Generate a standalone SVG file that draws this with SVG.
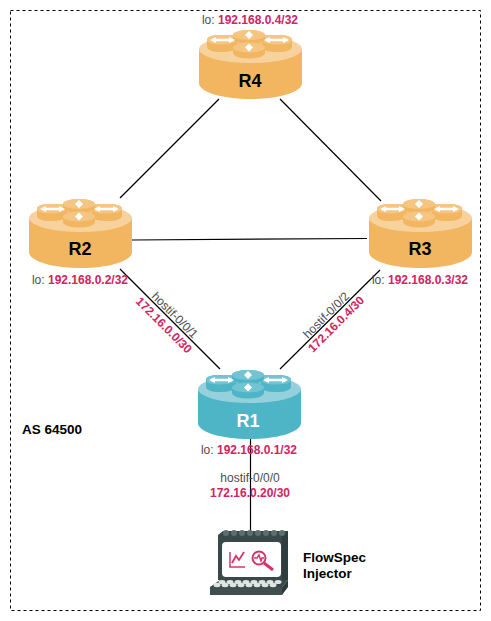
<svg xmlns="http://www.w3.org/2000/svg" width="491" height="621" viewBox="0 0 491 621">
<style>
text{font-family:"Liberation Sans",Arial,sans-serif}
.lb{font-size:12px;fill:#4d4d4d}
.ip{font-weight:bold;fill:#d0245f}
.nm{font-size:18px;font-weight:bold;text-anchor:middle;fill:#000}
.c{stroke:#000;stroke-width:1.200;fill:none}
.a{stroke:#fff;stroke-width:2.500;fill:none}
.mid{text-anchor:middle}
.t{font-size:13.500px;font-weight:bold;fill:#000}
</style>
<defs>
<g id="disks">
<path d="M8 11Q8 6 22 6H38V18Q36 23 22 23Q8 23 8 17Z" fill="var(--b)"/>
<path d="M8 11Q8 6 22 6H38Q41 11 36 13Q28 16 20 15.500Q8 15 8 11Z" fill="var(--m)"/>
<path d="M64 6H78Q93 6 93 11V17Q93 23 78 23Q64 23 62 18Z" fill="var(--b)"/>
<path d="M64 6H78Q93 6 93 11Q93 15 80 15.500Q70 16 64 13Q60 11 64 6Z" fill="var(--m)"/>
<path d="M34 6A16 5 0 0 1 66 6V10A16 5 0 0 1 34 10Z" fill="var(--b)"/>
<ellipse cx="50" cy="6" rx="16" ry="5" fill="var(--m)"/>
<path d="M34 18.500A16 5.500 0 0 1 66 18.500V24A16 5.500 0 0 1 34 24Z" fill="var(--b)"/>
<ellipse cx="50" cy="18.500" rx="16" ry="5" fill="var(--m)"/>
<path class="a" d="M13 11H34M88 11H67"/>
<path d="M11 11L17 8V14ZM36 11L30 8V14ZM65 11L71 8V14ZM90 11L84 8V14ZM50 2L54 6H46ZM50 10L46 6H54ZM50 14.500L54 18.500H46ZM50 22.500L46 18.500H54Z" fill="#fff"/>
</g>
<g id="router">
<path d="M0 20V54C0 63 23 70 51.500 70S103 63 103 54V20Z" fill="var(--b)"/>
<ellipse cx="51.500" cy="20" rx="51.500" ry="14" fill="var(--l)"/>
<use href="#disks"/>
</g>
<g id="term">
<path d="M13 10L18 6H83V50L77 55H13Z" fill="#39494a"/>
<path d="M77 11L83 6V55L77 55Z" fill="#2f3d3e"/>
<path d="M5 62L15 55H83L77 62Z" fill="#39494a"/>
<path d="M5 62H77V70H5Z" fill="#3f4f50"/>
<path d="M77 62L83 55V62L77 70Z" fill="#2c3a3b"/>
<rect x="17" y="17" width="59" height="35" rx="4" fill="#fff"/>
<g fill="#5f6e6e"><circle cx="21" cy="8" r="3"/><circle cx="29" cy="8" r="3"/><circle cx="37" cy="8" r="3"/><circle cx="45" cy="8" r="3"/><circle cx="53" cy="8" r="3"/><circle cx="61" cy="8" r="3"/><circle cx="69" cy="8" r="3"/><circle cx="77" cy="8" r="3"/></g>
<g fill="#dfe5e3"><ellipse cx="12" cy="60" rx="3.500" ry="2.200"/><ellipse cx="20" cy="60" rx="3.500" ry="2.200"/><ellipse cx="28" cy="60" rx="3.500" ry="2.200"/><ellipse cx="36" cy="60" rx="3.500" ry="2.200"/><ellipse cx="44" cy="60" rx="3.500" ry="2.200"/><ellipse cx="52" cy="60" rx="3.500" ry="2.200"/><ellipse cx="60" cy="60" rx="3.500" ry="2.200"/><ellipse cx="68" cy="60" rx="3.500" ry="2.200"/><ellipse cx="17" cy="57" rx="3.500" ry="2"/><ellipse cx="25" cy="57" rx="3.500" ry="2"/><ellipse cx="33" cy="57" rx="3.500" ry="2"/><ellipse cx="41" cy="57" rx="3.500" ry="2"/><ellipse cx="49" cy="57" rx="3.500" ry="2"/><ellipse cx="57" cy="57" rx="3.500" ry="2"/><ellipse cx="65" cy="57" rx="3.500" ry="2"/><ellipse cx="73" cy="57" rx="3.500" ry="2"/></g>
<g fill="none" stroke="#d6336c" stroke-width="1.500"><path d="M25 27V42H40"/><path d="M27 38L31 31L34 35L39 27" stroke-width="1.800"/><circle cx="54" cy="33" r="6.500" stroke-width="2"/><path d="M49 33H52L54 30L56 36L57 33H59"/><path d="M59 38L68 45" stroke-width="3"/></g>
</g>
</defs>
<rect x="10.500" y="10.500" width="470" height="600" fill="none" stroke="#000" stroke-dasharray="3 3"/>
<g id="connectors">
<path class="c" d="M219 99L120 198"/>
<path class="c" d="M280 99L381 201"/>
<path class="c" d="M132 240L367 238.500"/>
<path class="c" d="M120 269L220 369"/>
<path class="c" d="M380 270L280 369"/>
<path class="c" d="M250.500 439V531"/>
</g>
<g id="R4" style="--b:#f2b661;--l:#f7d29d;--m:#f5c683">
<use href="#router" x="199" y="29"/>
<text class="nm" x="250" y="87">R4</text>
<text x="250" y="24" class="lb mid">lo: <tspan class="ip">192.168.0.4/32</tspan></text>
</g>
<g id="R2" style="--b:#f2b661;--l:#f7d29d;--m:#f5c683">
<use href="#router" x="29" y="198"/>
<text class="nm" x="80" y="255">R2</text>
<text x="80" y="284" class="lb mid">lo: <tspan class="ip">192.168.0.2/32</tspan></text>
</g>
<g id="R3" style="--b:#f2b661;--l:#f7d29d;--m:#f5c683">
<use href="#router" x="369" y="198"/>
<text class="nm" x="420" y="255">R3</text>
<text x="420" y="284" class="lb mid">lo: <tspan class="ip">192.168.0.3/32</tspan></text>
</g>
<g id="R1" style="--b:#4db5c6;--l:#94d1dc;--m:#73c4d2">
<use href="#router" x="198" y="369"/>
<text class="nm" x="248" y="427" style="fill:#fff">R1</text>
<text x="249" y="454" class="lb mid">lo: <tspan class="ip">192.168.0.1/32</tspan></text>
</g>
<g id="injector">
<use href="#term" x="205" y="525"/>
<text x="303" y="562" class="t">FlowSpec</text>
<text x="303" y="578" class="t">Injector</text>
</g>
<g id="labels">
<text class="lb mid" transform="translate(172 318) rotate(45)">hostif-0/0/1</text>
<text class="lb ip mid" transform="translate(161 328) rotate(45)">172.16.0.0/30</text>
<text class="lb mid" transform="translate(329 318) rotate(-45)">hostif-0/0/2</text>
<text class="lb ip mid" transform="translate(339 327) rotate(-45)">172.16.0.4/30</text>
<text class="lb mid" x="250" y="482">hostif-0/0/0</text>
<text class="lb ip mid" x="250" y="497">172.16.0.20/30</text>
<text x="22" y="434" class="t">AS 64500</text>
</g>
</svg>
